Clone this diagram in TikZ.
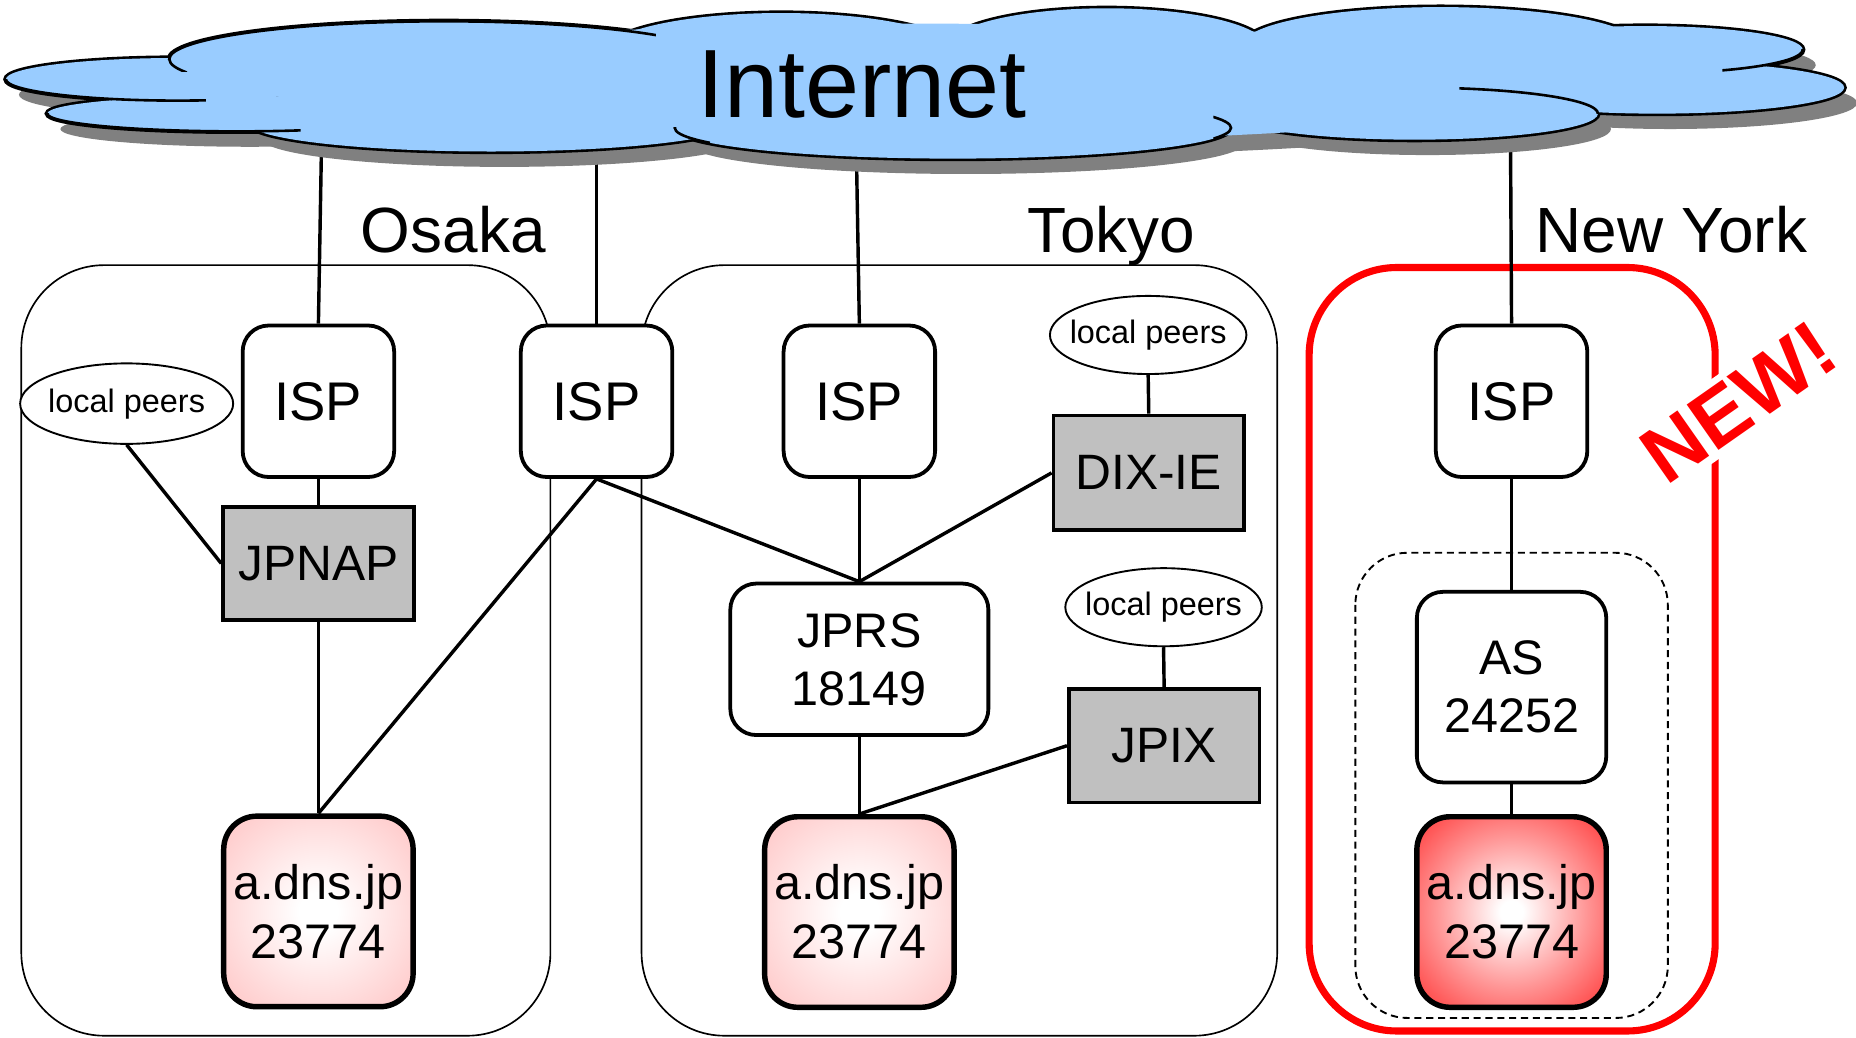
\documentclass[tikz,border=0pt]{standalone}
\usepackage{fontspec}
\setmainfont{Liberation Sans}
\usetikzlibrary{shapes.geometric}
\pgfdeclarelayer{bg}
\pgfdeclarelayer{conn}
\pgfsetlayers{bg,conn,main}
\definecolor{cloudblue}{HTML}{99CCFF}
\definecolor{shadowgray}{HTML}{808080}
\definecolor{ixgray}{HTML}{C0C0C0}
\definecolor{pinkedge}{HTML}{FFC8C8}
\definecolor{nyred}{HTML}{FF2A2A}
\definecolor{newred}{HTML}{FF0000}
\pgfdeclareradialshading{pinkshade}{\pgfpoint{0bp}{0bp}}{color(0bp)=(white); color(5bp)=(white); color(34bp)=(pinkedge); color(75bp)=(pinkedge)}
\pgfdeclareradialshading{redshade}{\pgfpoint{0bp}{0bp}}{color(0bp)=(white); color(3bp)=(white); color(20bp)=(nyred!50!white); color(38bp)=(nyred); color(75bp)=(nyred)}
\tikzset{
  conn/.style={line width=1.45pt},
  ispbox/.style={draw, line width=1.6pt, rounded corners=11pt, fill=white, minimum width=64pt, minimum height=64pt, inner sep=0pt, font=\fontsize{23}{27}\selectfont},
  ixbox/.style={draw, line width=1.6pt, fill=ixgray, minimum width=80.5pt, minimum height=48pt, inner sep=0pt, font=\fontsize{21}{25}\selectfont},
  peer/.style={draw, ellipse, line width=0.8pt, fill=white, inner sep=0pt, font=\fontsize{13.7}{16}\selectfont},
  asbox/.style={draw, line width=1.6pt, rounded corners=11pt, fill=white, align=center, inner sep=0pt, font=\fontsize{20.5}{24.5}\selectfont},
  dnsbox/.style={draw, line width=2.3pt, rounded corners=14pt, minimum width=80pt, minimum height=80.5pt, align=center, inner sep=0pt, font=\fontsize{20.5}{25}\selectfont},
  region/.style={draw, line width=0.7pt, rounded corners=35pt},
  citylabel/.style={anchor=base, inner sep=0pt, font=\fontsize{27}{32}\selectfont},
  cloudline/.style={line width=1.1pt}
}
\begin{document}
\begin{tikzpicture}[x=0.5pt,y=-0.5pt]
\useasboundingbox (0,0) rectangle (1568,876.1);
\begin{pgfonlayer}{bg}
\fill[white] (0,0) rectangle (1568,876.1);
\draw[region] (18,224) rectangle (465,875);
\draw[region] (542,224) rectangle (1079,875);
\draw[line width=3pt, newred, rounded corners=37pt] (1106,226) rectangle (1449,871);
\draw[dashed, dash pattern=on 3pt off 2pt, line width=0.8pt, rounded corners=22pt] (1145,467) rectangle (1409,860);
\end{pgfonlayer}

% cloud shadow
\foreach \cx/\cy/\rx/\ry in {150/67/145/18, 200/96/160/15, 375/50/232/32, 660/45/150/34, 935/40/135/33, 1217/38/167/32, 1390/42/133/20, 1400/74/158/22, 1195/96/155/22, 805/108/235/26, 415/104/205/24, 780/70/560/50}
  \fill[shadowgray] (\cx+11,\cy+13) ellipse[x radius=\rx, y radius=\ry];
% cloud outline (double width, then fill)
\foreach \cx/\cy/\rx/\ry in {150/67/145/18, 200/96/160/15, 375/50/232/32, 660/45/150/34, 935/40/135/33, 1217/38/167/32, 1390/42/133/20, 1400/74/158/22, 1195/96/155/22, 805/108/235/26, 415/104/205/24}
  \draw[line width=2.2pt] (\cx,\cy) ellipse[x radius=\rx, y radius=\ry];
\foreach \cx/\cy/\rx/\ry in {150/67/145/18, 200/96/160/15, 375/50/232/32, 660/45/150/34, 935/40/135/33, 1217/38/167/32, 1390/42/133/20, 1400/74/158/22, 1195/96/155/22, 805/108/235/26, 415/104/205/24, 780/70/560/50}
  \fill[cloudblue] (\cx,\cy) ellipse[x radius=\rx, y radius=\ry];
% interior stubs of the cloud outline
\begin{scope}\clip (0,67) rectangle (174,92); \draw[cloudline] (150,67) ellipse[x radius=145, y radius=18]; \end{scope}
\begin{scope}\clip (0,96) rectangle (254,115); \draw[cloudline] (200,96) ellipse[x radius=160, y radius=15]; \end{scope}
\begin{scope}\clip (138,10) rectangle (554,50); \draw[cloudline] (375,50) ellipse[x radius=232, y radius=32]; \end{scope}
\begin{scope}\clip (138,50) rectangle (158,60); \draw[cloudline] (375,50) ellipse[x radius=232, y radius=32]; \end{scope}
\begin{scope}\clip (1233,60) rectangle (1360,96); \draw[cloudline] (1195,96) ellipse[x radius=155, y radius=22]; \end{scope}
\begin{scope}\clip (1455,42) rectangle (1530,66); \draw[cloudline] (1390,42) ellipse[x radius=133, y radius=20]; \end{scope}
\begin{scope}\clip (565,108) rectangle (600,128); \draw[cloudline] (805,108) ellipse[x radius=235, y radius=26]; \end{scope}
\begin{scope}\clip (1025,96) rectangle (1045,122); \draw[cloudline] (805,108) ellipse[x radius=235, y radius=26]; \end{scope}
\node[anchor=base, inner sep=0pt, font=\fontsize{41}{48}\selectfont] (inet) at (728,99) {Internet};

% city labels
\node[citylabel] (osaka) at (383,213) {Osaka};
\node[citylabel] (tokyo) at (939,213) {Tokyo};
\node[citylabel] (newyork) at (1412,213) {New York};

% nodes
\node[ispbox] (isp1) at (269,339) {ISP};
\node[ispbox] (isp2) at (504,339) {ISP};
\node[ispbox] (isp3) at (726,339) {ISP};
\node[ispbox] (isp4) at (1277,339) {ISP};
\node[peer, minimum width=90pt, minimum height=34pt] (lpO) at (107,341) {\makebox[0pt][c]{local peers}};
\node[peer, minimum width=83pt, minimum height=33pt] (lpT1) at (970,283) {\makebox[0pt][c]{local peers}};
\node[peer, minimum width=83pt, minimum height=33pt] (lpT2) at (983,513) {\makebox[0pt][c]{local peers}};
\node[ixbox] (jpnap) at (269,476) {JPNAP};
\node[ixbox, minimum height=48.5pt] (dixie) at (970.5,399.5) {DIX-IE};
\node[ixbox] (jpix) at (983.5,630) {JPIX};
\node[asbox, minimum width=109pt, minimum height=64pt] (jprs) at (726,557) {JPRS\\18149};
\node[asbox, minimum width=80pt, minimum height=80.5pt] (as) at (1277,580.5) {AS\\24252};
\node[dnsbox, shading=pinkshade] (dnsO) at (269,770) {a.dns.jp\\23774};
\node[dnsbox, shading=pinkshade] (dnsT) at (726,770.5) {a.dns.jp\\23774};
\node[dnsbox, shading=redshade] (dnsN) at (1277,770.5) {a.dns.jp\\23774};
\node[rotate=35, fill=white, text=newred, inner sep=3pt, font=\bfseries\fontsize{34}{40}\selectfont] (newtag) at (1469,340) {NEW!};

% connectors
\coordinate (c1) at (272,100);
\coordinate (c2) at (504,100);
\coordinate (c3) at (723,100);
\coordinate (c4) at (1276,100);
\begin{pgfonlayer}{conn}
\draw[conn] (c1) -- (isp1.north);
\draw[conn] (c2) -- (isp2.north);
\draw[conn] (c3) -- (isp3.north);
\draw[conn] (c4) -- (isp4.north);
\draw[conn] (isp1.south) -- (jpnap.north);
\draw[conn] (lpO.south) -- (jpnap.west);
\draw[conn] (jpnap.south) -- (dnsO.north);
\draw[conn] (isp2.south) -- (dnsO.north);
\draw[conn] (isp2.south) -- (jprs.north);
\draw[conn] (isp3.south) -- (jprs.north);
\draw[conn] (dixie.west) -- (jprs.north);
\draw[conn] (lpT1.south) -- (dixie.north);
\draw[conn] (lpT2.south) -- (jpix.north);
\draw[conn] (jprs.south) -- (dnsT.north);
\draw[conn] (jpix.west) -- (dnsT.north);
\draw[conn] (isp4.south) -- (as.north);
\draw[conn] (as.south) -- (dnsN.north);
\end{pgfonlayer}
\end{tikzpicture}
\end{document}
